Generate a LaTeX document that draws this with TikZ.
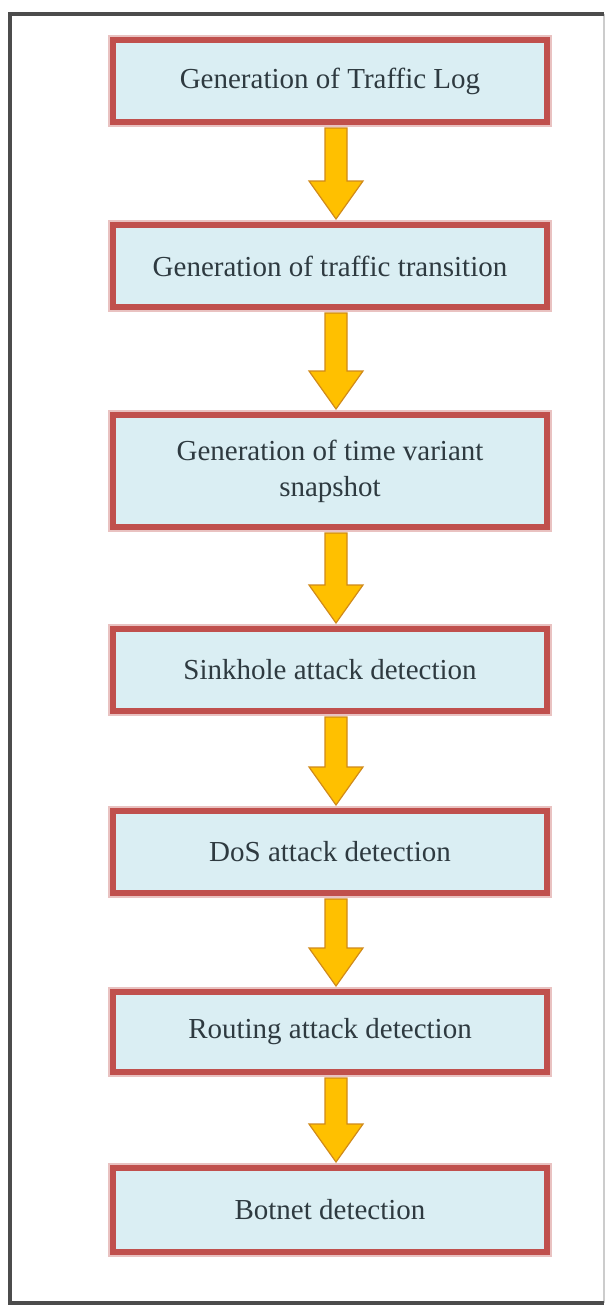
\documentclass[tikz,border=0pt]{standalone}
\usepackage{fontspec}
\setmainfont{Liberation Serif}
\usetikzlibrary{calc}
\definecolor{boxred}{HTML}{C0504D}
\definecolor{boxblue}{HTML}{DAEEF3}
\definecolor{arrowfill}{HTML}{FFC000}
\definecolor{arrowline}{HTML}{D08A1A}
\definecolor{textgray}{HTML}{2E3A40}
\begin{document}
\begin{tikzpicture}[x=1pt,y=-1pt,
		stage/.style={draw=boxred,fill=boxblue,line width=6pt,preaction={draw=boxred!35,line width=10pt},minimum width=434pt,inner sep=0pt,align=center,text=textgray,font=\fontsize{29}{36}\selectfont},
		flow/.style={fill=arrowfill,draw=arrowline,line width=1.2pt,line join=miter}]
		\useasboundingbox (0,0) rectangle (612,1315);
		\fill[white] (0,0) rectangle (612,1315);
		\draw[gray!40,line width=1.5pt] (604,14) -- (604,1303);
		\draw[gray!60!black,line width=4pt] (604,14) -- (10,14) -- (10,1303) -- (604,1303);
		\node[stage,minimum height=82pt] (log) at (330,81) {Generation of Traffic Log};
		\node[stage,minimum height=82pt] (trans) at (330,266) {Generation of traffic transition};
		\node[stage,minimum height=112pt] (snap) at (330,471) {Generation of time variant\\snapshot};
		\node[stage,minimum height=82pt] (sink) at (330,670) {Sinkhole attack detection};
		\node[stage,minimum height=82pt] (dos) at (330,852) {DoS attack detection};
		\node[stage,minimum height=80pt] (route) at (330,1032) {Routing attack detection};
		\node[stage,minimum height=84pt] (bot) at (330,1210) {Botnet detection};
		\foreach \a/\b in {log/trans,trans/snap,snap/sink,sink/dos,dos/route,route/bot}
			\draw[flow] ($(\a.south)+(-5,3)$) -- ($(\b.north)+(-5,-41)$) -- ($(\b.north)+(-21,-41)$) -- ($(\b.north)+(6,-3)$) -- ($(\b.north)+(33,-41)$) -- ($(\b.north)+(17,-41)$) -- ($(\a.south)+(17,3)$) -- cycle;
	\end{tikzpicture}
\end{document}
